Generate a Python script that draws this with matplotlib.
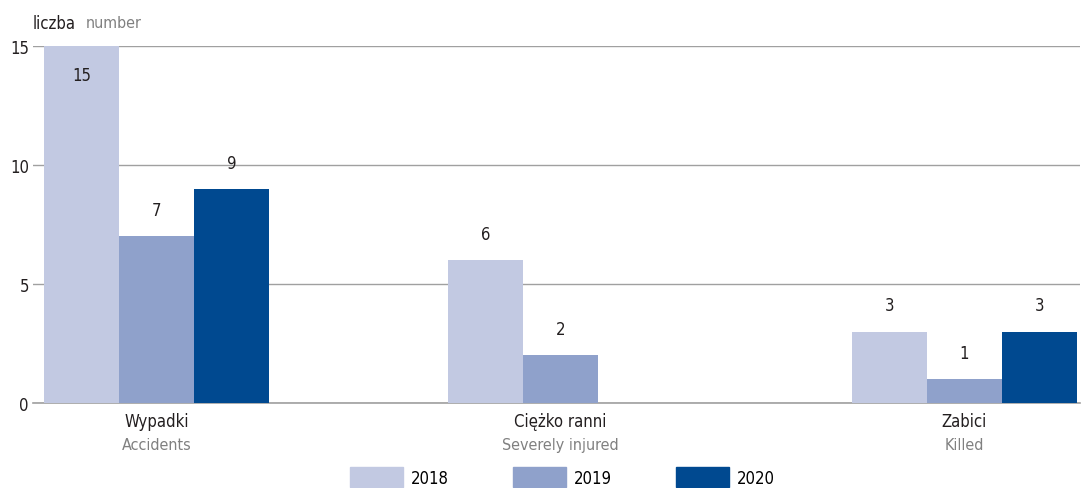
import matplotlib
matplotlib.use('Agg')
import matplotlib.pyplot as plt
import matplotlib.patches as mpatches
from matplotlib import font_manager
import numpy as np

categories_pl = ['Wypadki', 'Ciężko ranni', 'Zabici']
categories_en = ['Accidents', 'Severely injured', 'Killed']
years = ['2018', '2019', '2020']
values_2018 = [15, 6, 3]
values_2019 = [7, 2, 1]
values_2020 = [9, 0, 3]
yticks = [0, 5, 10, 15]

colors = ['#c2c9e2', '#8fa1cb', '#004990']
dark = '#231f20'
grey = '#808080'

names = {f.name for f in font_manager.fontManager.ttflist}
if 'Liberation Sans Narrow' in names:
    plt.rcParams['font.family'] = ['Liberation Sans Narrow', 'DejaVu Sans']
else:
    plt.rcParams['font.family'] = ['DejaVu Sans']
    plt.rcParams['font.stretch'] = 'condensed'

fig = plt.figure(figsize=(10.9, 4.89), dpi=100)
ax = fig.add_axes([0.0303, 0.1738, 0.9606, 0.7301])

x = np.arange(len(categories_pl))
width = 0.186
series = [values_2018, values_2019, values_2020]
for i, (vals, col) in enumerate(zip(series, colors)):
    pos = x + (i - 1) * width
    ax.bar(pos, vals, width=width, color=col, zorder=2, label=years[i])
    for p, v in zip(pos, vals):
        if v == 0:
            continue
        if v >= 15:
            # top bar: label sits inside
            ax.text(p, v - 1.2, str(v), ha='center', va='center', fontsize=12, color=dark, zorder=3)
        else:
            ax.text(p, v + 1.1, str(v), ha='center', va='center', fontsize=12, color=dark, zorder=3)

ax.set_xlim(-0.306, 2.287)
ax.set_ylim(0, 15)
ax.set_yticks(yticks)
ax.set_yticklabels([str(t) for t in yticks], fontsize=12, color=dark)
ax.tick_params(axis='y', length=0, pad=3)
ax.set_xticks([])
ax.grid(axis='y', color='#a0a0a0', linewidth=1, zorder=1)
ax.axhline(0, color='#a0a0a0', linewidth=1.2, zorder=1, clip_on=False)
for s in ax.spines.values():
    s.set_visible(False)

for xi, pl, en in zip(x, categories_pl, categories_en):
    ax.text(xi, -0.76, pl, ha='center', va='center', fontsize=12, color=dark, clip_on=False)
    ax.text(xi, -1.76, en, ha='center', va='center', fontsize=11.5, color=grey, clip_on=False)

fig.text(0.0303, 0.951, 'liczba', ha='left', va='center', fontsize=12, color=dark)
fig.text(0.079, 0.951, 'number', ha='left', va='center', fontsize=11.5, color=grey)

handles = [mpatches.Patch(color=c) for c in colors]
fig.legend(handles, years, loc='center', bbox_to_anchor=(0.516, 0.0225), ncol=3,
           frameon=False, fontsize=12, handlelength=3.2, handleheight=1.4,
           columnspacing=3.8, handletextpad=0.5, borderpad=0, borderaxespad=0)

fig.savefig('out.png', dpi=100)
